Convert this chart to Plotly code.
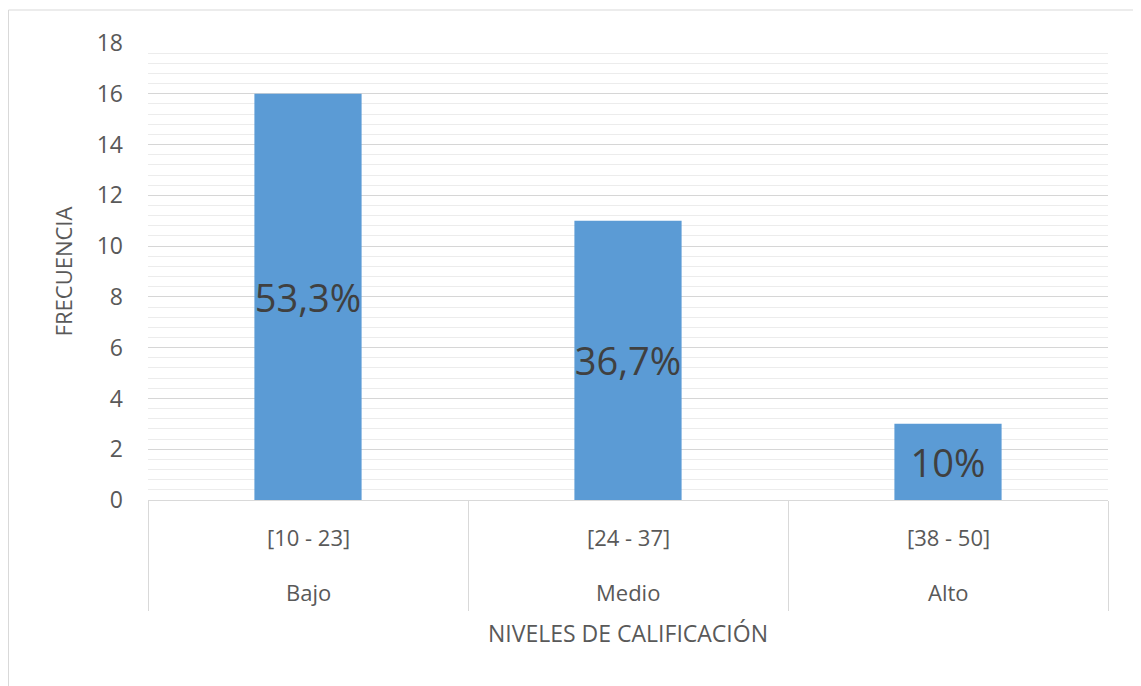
import plotly.graph_objects as go

niveles = ["Bajo", "Medio", "Alto"]
rangos = ["[10 - 23]", "[24 - 37]", "[38 - 50]"]
frecuencia = [16, 11, 3]
porcentajes = ["53,3%", "36,7%", "10%"]

font_family = "Open Sans, Noto Sans, DejaVu Sans, sans-serif"
gray = "#595959"

# plot area in figure pixels (page adds an 8px body margin)
W, H = 1133, 678
L, R, T, B = 140, 33, 35, 186
plot_h = H - T - B

fig = go.Figure()

fig.add_trace(go.Bar(
    x=niveles,
    y=frecuencia,
    text=porcentajes,
    textposition="inside",
    insidetextanchor="middle",
    textangle=0,
    constraintext="none",
    textfont=dict(size=38, color="#404040", family=font_family),
    marker_color="#5b9bd5",
    marker_line_width=0,
    width=0.335,
    showlegend=False,
))

# two-level category labels under the axis
annotations = []
for nivel, rango in zip(niveles, rangos):
    annotations.append(dict(
        x=nivel, xref="x", y=-37 / plot_h, yref="paper",
        text=rango, showarrow=False, yanchor="middle",
        font=dict(size=22, color=gray),
    ))
    annotations.append(dict(
        x=nivel, xref="x", y=-92 / plot_h, yref="paper",
        text=nivel, showarrow=False, yanchor="middle",
        font=dict(size=22, color=gray),
    ))

# x axis title
annotations.append(dict(
    x=0.5, xref="paper", y=-133 / plot_h, yref="paper",
    text="NIVELES DE CALIFICACIÓN", showarrow=False, yanchor="middle",
    font=dict(size=23, color=gray),
))

fig.update_layout(
    width=W,
    height=H,
    margin=dict(l=L, r=R, t=T, b=B),
    paper_bgcolor="white",
    plot_bgcolor="white",
    font=dict(family=font_family, color=gray, size=22),
    xaxis=dict(
        type="category",
        showline=True,
        linecolor="#d9d9d9",
        linewidth=1,
        showticklabels=False,
        ticks="outside",
        tickson="boundaries",
        ticklen=110,
        tickcolor="#d9d9d9",
        tickwidth=1,
        showgrid=False,
    ),
    yaxis=dict(
        range=[0, 18],
        dtick=2,
        tick0=0,
        showgrid=True,
        gridcolor="#d6d6d6",
        gridwidth=1,
        zeroline=False,
        ticks="",
        ticklabelstandoff=24,
        tickfont=dict(size=23, color=gray),
        minor=dict(dtick=0.4, showgrid=True, gridcolor="#ececec", gridwidth=1),
        title=dict(text="FRECUENCIA", font=dict(size=22, color=gray), standoff=17),
    ),
    annotations=annotations,
    shapes=[dict(
        type="rect", xref="paper", yref="paper",
        x0=0.5 / 960 - L / 960, x1=(W - 6 - L) / 960,
        y0=-0.45, y1=(plot_h + T - 2) / plot_h,
        line=dict(color="#d9d9d9", width=1),
        fillcolor="rgba(0,0,0,0)",
        layer="below",
    )],
)

fig.write_html("out.html")
